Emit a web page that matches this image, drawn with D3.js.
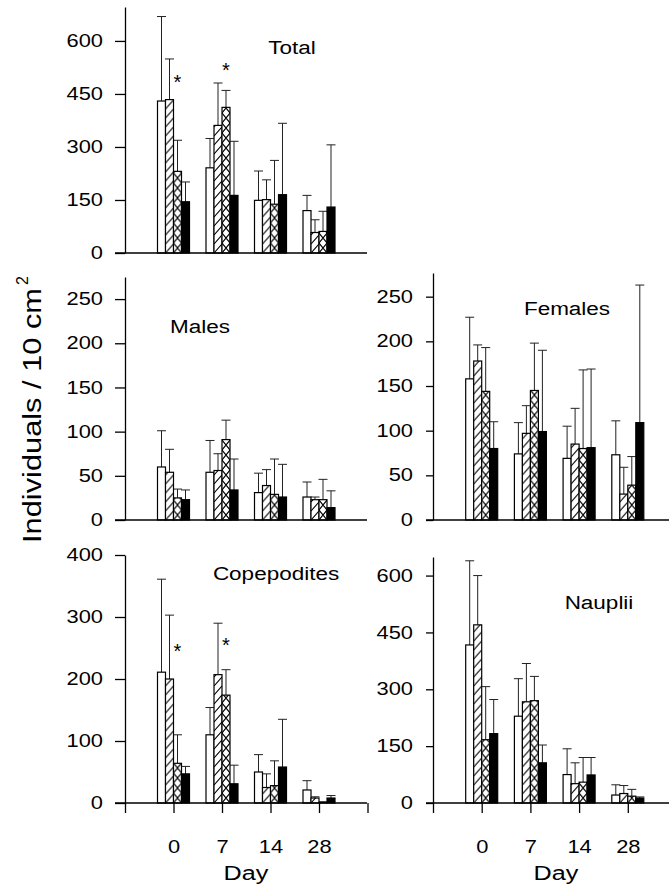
<!DOCTYPE html>
<html>
<head>
<meta charset="utf-8">
<script src="https://cdn.jsdelivr.net/npm/d3@7"></script>
<style>
  body { margin: 0; background: #fff; }
  svg { display: block; }
</style>
</head>
<body>
<div id="chart"></div>
<script>
// sampling days (same for every panel)
var days = ["0", "7", "14", "28"];
// treatments: open, hatched, cross-hatched, solid
var treatments = ["open", "hatch", "cross", "solid"];

// means, one row per day, one value per treatment; sd = error bar length
var totalMean = [[430, 434, 231, 145], [241, 361, 412, 163], [149, 151, 138, 165], [120, 58, 61, 130]];
var totalSd   = [[239, 115, 88, 56],   [83, 120, 48, 153],   [83, 56, 124, 202],   [43, 36, 57, 176]];

var malesMean = [[60, 54, 25, 23], [54, 56, 91, 34], [31, 39, 29, 26], [26, 23, 23, 14]];
var malesSd   = [[41, 26, 10, 11], [36, 19, 22, 35], [22, 18, 40, 37], [17, 3, 23, 19]];

var femalesMean = [[158, 178, 144, 80], [74, 97, 145, 99], [69, 85, 80, 81], [73, 29, 39, 109]];
var femalesSd   = [[69, 18, 49, 30],    [35, 31, 53, 91],  [36, 40, 88, 88], [38, 30, 32, 154]];

var copeMean = [[211, 200, 64, 47], [110, 207, 174, 31], [50, 25, 28, 58], [21, 8, 1, 8]];
var copeSd   = [[150, 103, 46, 12], [44, 83, 41, 30],    [28, 22, 40, 77], [15, 2, 1, 4]];

var naupMean = [[417, 470, 167, 183], [229, 267, 270, 106], [75, 51, 55, 74], [21, 25, 18, 13]];
var naupSd   = [[222, 130, 140, 90],  [99, 101, 64, 47],    [68, 55, 65, 46], [27, 21, 18, 3]];

// y tick labels
var totalTicks = [0, 150, 300, 450, 600];
var malesTicks = [0, 50, 100, 150, 200, 250];
var femalesTicks = [0, 50, 100, 150, 200, 250];
var copeTicks = [0, 100, 200, 300, 400];
var naupTicks = [0, 150, 300, 450, 600];

// significance stars: [day index, level]
var totalStars = [[0, 495], [1, 529]];
var copeStars = [[0, 252], [1, 261]];

var width = 669, height = 894;
var font = "'Liberation Sans', Arial, Helvetica, sans-serif";
var sx = 1.25; // text in the figure is wide

var svg = d3.select("#chart").append("svg")
  .attr("width", width)
  .attr("height", height)
  .attr("font-family", font);

var defs = svg.append("defs");

// two columns of panels
var cols = [
  { ax: 125, end: 367.5, base0: 115, base1: 367, tick: 10, pad: 7.6 },
  { ax: 433, end: 676.5, base0: 426, base1: 669, tick: 7, pad: 9 }
];

var panels = [
  { id: "tot", label: "Total", mean: totalMean, sd: totalSd, ticks: totalTicks, col: 0,
    yMax: 696, y0: 253, y1: 7, lx: 292, ly: 54, xAxis: false, stars: totalStars },
  { id: "mal", label: "Males", mean: malesMean, sd: malesSd, ticks: malesTicks, col: 0,
    yMax: 275, y0: 520, y1: 277, lx: 200, ly: 333, xAxis: false, stars: [] },
  { id: "fem", label: "Females", mean: femalesMean, sd: femalesSd, ticks: femalesTicks, col: 1,
    yMax: 276.5, y0: 520, y1: 273, lx: 567, ly: 315, xAxis: false, stars: [] },
  { id: "cop", label: "Copepodites", mean: copeMean, sd: copeSd, ticks: copeTicks, col: 0,
    yMax: 400, y0: 803, y1: 555, lx: 276, ly: 580, xAxis: true, stars: copeStars },
  { id: "nau", label: "Nauplii", mean: naupMean, sd: naupSd, ticks: naupTicks, col: 1,
    yMax: 649, y0: 803, y1: 557, lx: 599, ly: 609, xAxis: true, stars: [] }
];

var barW = 8;

panels.forEach(function (p) {
  var c = cols[p.col];
  // positions 1..4 are the days, 0 is the y axis
  var x = d3.scaleLinear().domain([0, 5]).range([c.ax, c.end]);
  var y = d3.scaleLinear().domain([0, p.yMax]).range([p.y0, p.y1]);
  var g = svg.append("g");

  // flatten bars
  var bars = [];
  p.mean.forEach(function (row, i) {
    row.forEach(function (v, s) {
      bars.push({ day: i, s: s, v: v, sd: p.sd[i][s],
                  x: x(i + 1) - 2 * barW + s * barW });
    });
  });

  // patterns anchored at each bar
  bars.forEach(function (b) {
    if (b.s === 1) {
      var pt = defs.append("pattern").attr("id", p.id + "h" + b.day)
        .attr("patternUnits", "userSpaceOnUse")
        .attr("x", b.x).attr("y", p.y0).attr("width", barW).attr("height", 9);
      pt.append("rect").attr("width", barW).attr("height", 9).attr("fill", "#fff");
      pt.append("path").attr("d", "M0,9L8,0M-2,2L0,0M8,9L10,7")
        .attr("stroke", "#000").attr("stroke-width", 1.1);
    } else if (b.s === 2) {
      var pc = defs.append("pattern").attr("id", p.id + "c" + b.day)
        .attr("patternUnits", "userSpaceOnUse")
        .attr("x", b.x).attr("y", p.y0).attr("width", barW).attr("height", 10);
      pc.append("rect").attr("width", barW).attr("height", 10).attr("fill", "#fff");
      pc.append("path").attr("d", "M0,0L8,10M0,10L8,0")
        .attr("stroke", "#000").attr("stroke-width", 1.1);
    }
  });

  function fill(b) {
    if (b.s === 0) return "#fff";
    if (b.s === 1) return "url(#" + p.id + "h" + b.day + ")";
    if (b.s === 2) return "url(#" + p.id + "c" + b.day + ")";
    return "#000";
  }

  // error bars first, bars on top
  var eb = g.append("g").attr("stroke", "#222").attr("stroke-width", 1);
  eb.selectAll("line.v").data(bars).join("line").attr("class", "v")
    .attr("x1", d => d.x + barW / 2).attr("x2", d => d.x + barW / 2)
    .attr("y1", d => y(d.v)).attr("y2", d => y(d.v + d.sd));
  eb.selectAll("line.c").data(bars).join("line").attr("class", "c")
    .attr("x1", d => d.x + barW / 2 - 4.5).attr("x2", d => d.x + barW / 2 + 4.5)
    .attr("y1", d => y(d.v + d.sd)).attr("y2", d => y(d.v + d.sd));

  g.append("g").selectAll("rect").data(bars).join("rect")
    .attr("x", d => d.x)
    .attr("y", d => y(d.v))
    .attr("width", barW)
    .attr("height", d => y(0) - y(d.v))
    .attr("fill", fill)
    .attr("stroke", "#000")
    .attr("stroke-width", 1.2);

  // baseline
  g.append("line")
    .attr("x1", c.base0).attr("x2", c.base1)
    .attr("y1", y(0)).attr("y2", y(0))
    .attr("stroke", "#000").attr("stroke-width", 1.3);

  // y axis
  var ya = g.append("g").attr("transform", "translate(" + c.ax + ",0)")
    .call(d3.axisLeft(y).tickValues(p.ticks).tickSize(c.tick).tickSizeOuter(0).tickPadding(c.pad));
  ya.attr("font-family", font).attr("font-size", 17.5);
  ya.selectAll("path, line").attr("stroke", "#000").attr("stroke-width", 1.3);
  ya.selectAll(".tick text").attr("fill", "#000").attr("transform", "scale(" + sx + ",1)");

  // x axis on the bottom row
  if (p.xAxis) {
    var xa = g.append("g").attr("transform", "translate(0," + y(0) + ")")
      .call(d3.axisBottom(x).tickValues([0, 1, 2, 3, 4, 5])
        .tickFormat(i => (i >= 1 && i <= 4) ? days[i - 1] : "")
        .tickSize(10).tickPadding(28));
    xa.select(".domain").remove();
    xa.attr("font-family", font).attr("font-size", 17.5);
    xa.selectAll("line").attr("stroke", "#000").attr("stroke-width", 1.3);
    xa.selectAll(".tick text").attr("fill", "#000").attr("transform", "scale(" + sx + ",1)");
  }

  // stars over the cross-hatched bar
  g.selectAll("text.star").data(p.stars).join("text").attr("class", "star")
    .attr("transform", d => "translate(" + (x(d[0] + 1) + barW / 2) + "," + y(d[1]) + ")")
    .attr("dy", 11)
    .attr("text-anchor", "middle")
    .attr("font-size", 20)
    .text("*");

  // panel label
  g.append("text")
    .attr("transform", "translate(" + p.lx + "," + p.ly + ") scale(" + sx + ",1)")
    .attr("text-anchor", "middle")
    .attr("font-size", 18)
    .text(p.label);
});

// x titles
[246, 556].forEach(function (cx) {
  svg.append("text")
    .attr("transform", "translate(" + cx + ",880) scale(1.2,1)")
    .attr("text-anchor", "middle")
    .attr("font-size", 21)
    .text("Day");
});

// y title
var yt = svg.append("g").attr("transform", "translate(41,543) rotate(-90)");
yt.append("text")
  .attr("font-size", 25)
  .attr("textLength", 255)
  .attr("lengthAdjust", "spacingAndGlyphs")
  .text("Individuals / 10 cm");
yt.append("text")
  .attr("x", 258).attr("y", -13)
  .attr("font-size", 16)
  .text("2");
</script>
</body>
</html>
